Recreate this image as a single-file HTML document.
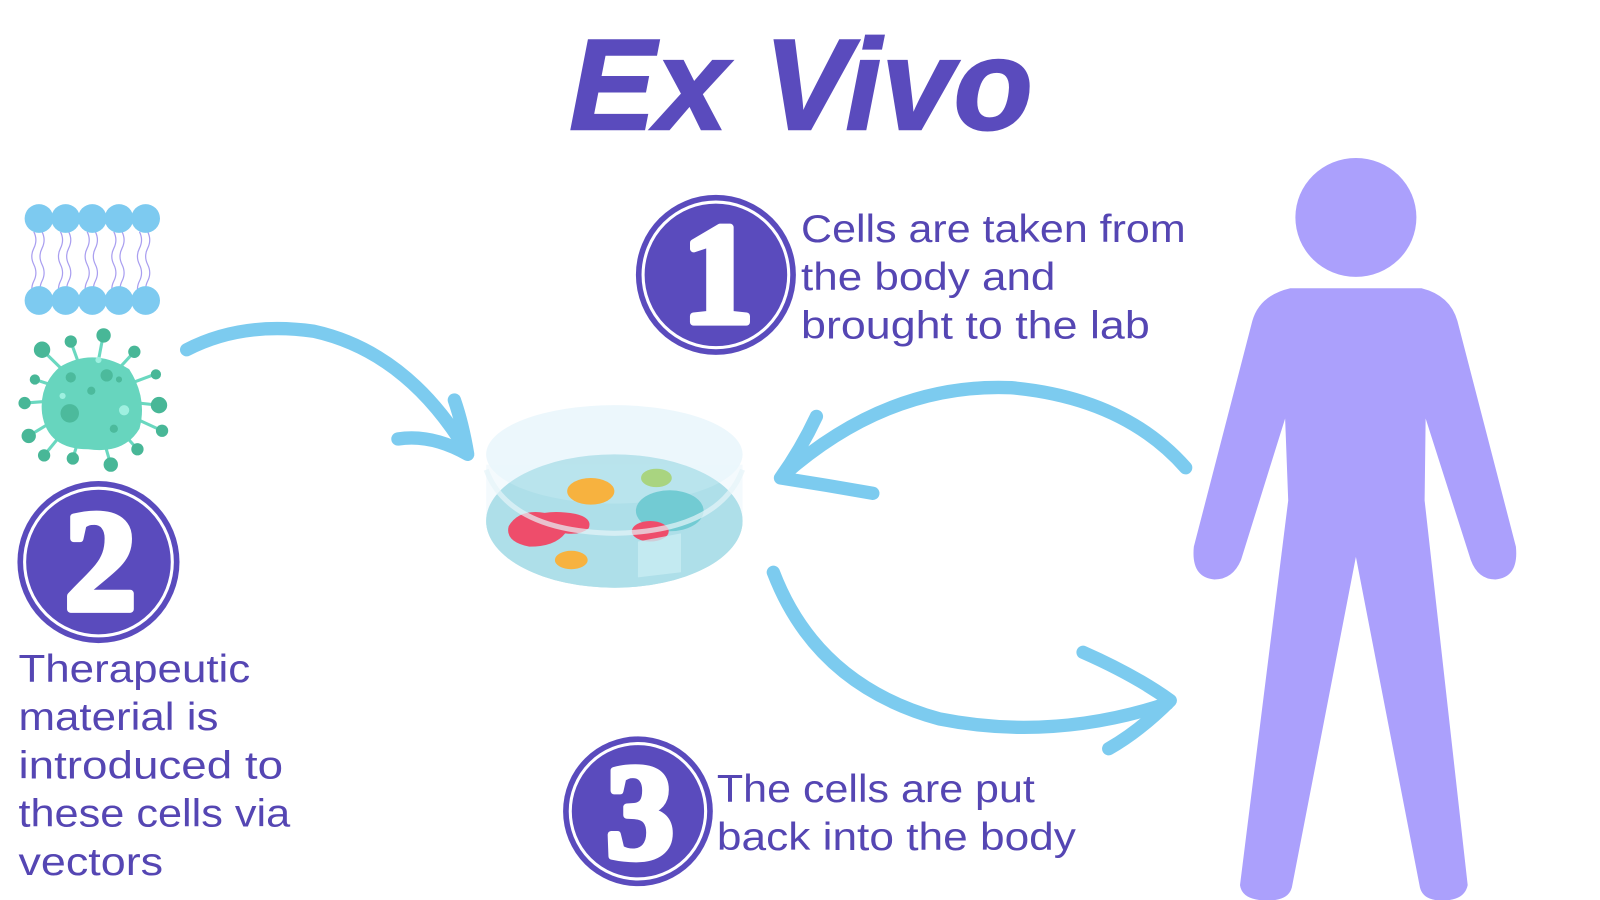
<!DOCTYPE html>
<html><head><meta charset="utf-8"><style>html,body{margin:0;padding:0;background:#fff;}svg{display:block}</style></head>
<body>
<svg width="1600" height="900" viewBox="0 0 1560 877.5" xmlns="http://www.w3.org/2000/svg">
<rect width="1560" height="877.5" fill="#fff"/>
<g transform="translate(-4,-2)">
<!-- title -->
<text x="785" y="128" text-anchor="middle" font-family="Liberation Sans, sans-serif" font-weight="bold" font-style="italic" font-size="126" fill="#5a4bbd" stroke="#5a4bbd" stroke-width="2" textLength="452" lengthAdjust="spacingAndGlyphs">Ex Vivo</text>

<!-- membrane -->
<g stroke="#a99ef0" stroke-width="1.2" fill="none">
<path d="M37 228 q4 8 0 16 q-4 8 0 16 q4 8 0 16 q-4 8 0 16"/><path d="M45 228 q4 8 0 16 q-4 8 0 16 q4 8 0 16 q-4 8 0 16"/>
<path d="M63 228 q4 8 0 16 q-4 8 0 16 q4 8 0 16 q-4 8 0 16"/><path d="M71 228 q4 8 0 16 q-4 8 0 16 q4 8 0 16 q-4 8 0 16"/>
<path d="M89 228 q4 8 0 16 q-4 8 0 16 q4 8 0 16 q-4 8 0 16"/><path d="M97 228 q4 8 0 16 q-4 8 0 16 q4 8 0 16 q-4 8 0 16"/>
<path d="M115 228 q4 8 0 16 q-4 8 0 16 q4 8 0 16 q-4 8 0 16"/><path d="M123 228 q4 8 0 16 q-4 8 0 16 q4 8 0 16 q-4 8 0 16"/>
<path d="M140 228 q4 8 0 16 q-4 8 0 16 q4 8 0 16 q-4 8 0 16"/><path d="M148 228 q4 8 0 16 q-4 8 0 16 q4 8 0 16 q-4 8 0 16"/>
</g>
<g fill="#7dcaf0">
<ellipse cx="42" cy="215" rx="14" ry="14"/><ellipse cx="68" cy="215" rx="14" ry="14"/><ellipse cx="94" cy="215" rx="14" ry="14"/><ellipse cx="120" cy="215" rx="14" ry="14"/><ellipse cx="146" cy="215" rx="14" ry="14"/>
<ellipse cx="42" cy="295" rx="14" ry="14"/><ellipse cx="68" cy="295" rx="14" ry="14"/><ellipse cx="94" cy="295" rx="14" ry="14"/><ellipse cx="120" cy="295" rx="14" ry="14"/><ellipse cx="146" cy="295" rx="14" ry="14"/>
</g>

<!-- virus -->
<g stroke="#6ad8c0" stroke-width="3">
<line x1="93" y1="390" x2="45" y2="343"/><line x1="93" y1="390" x2="73" y2="335"/><line x1="93" y1="390" x2="105" y2="327"/><line x1="93" y1="390" x2="135" y2="345"/>
<line x1="93" y1="390" x2="155" y2="367"/><line x1="93" y1="390" x2="158" y2="397"/><line x1="93" y1="390" x2="162" y2="422"/><line x1="93" y1="390" x2="138" y2="440"/>
<line x1="93" y1="390" x2="112" y2="455"/><line x1="93" y1="390" x2="75" y2="449"/><line x1="93" y1="390" x2="47" y2="446"/><line x1="93" y1="390" x2="32" y2="427"/><line x1="93" y1="390" x2="28" y2="395"/><line x1="93" y1="390" x2="38" y2="372"/>
</g>
<g fill="#48b797">
<circle cx="45" cy="343" r="8"/><circle cx="73" cy="335" r="6"/><circle cx="105" cy="329" r="7"/><circle cx="135" cy="345" r="6"/><circle cx="156" cy="367" r="5"/><circle cx="159" cy="397" r="8"/><circle cx="162" cy="422" r="6"/><circle cx="138" cy="440" r="6"/><circle cx="112" cy="455" r="7"/><circle cx="75" cy="449" r="6"/><circle cx="47" cy="446" r="6"/><circle cx="32" cy="427" r="7"/><circle cx="28" cy="395" r="6"/><circle cx="38" cy="372" r="5"/>
</g>
<path d="M62 360 Q95 340 130 362 Q148 390 140 420 Q125 445 90 440 Q50 440 45 405 Q42 378 62 360Z" fill="#67d5be"/>
<g fill="#4cba9c"><circle cx="72" cy="405" r="9"/><circle cx="108" cy="368" r="6"/><circle cx="73" cy="370" r="5"/><circle cx="93" cy="383" r="4"/><circle cx="115" cy="420" r="4"/><circle cx="120" cy="372" r="3"/></g>
<g fill="#9ef0e0"><circle cx="125" cy="402" r="5"/><circle cx="65" cy="388" r="3"/><circle cx="100" cy="353" r="3"/></g>

<!-- circles -->
<g font-family="Liberation Serif, serif" font-weight="bold" fill="#fff" stroke="#fff" stroke-width="7" stroke-linejoin="round" text-anchor="middle">
<circle cx="702" cy="270" r="78" fill="#5a4bbd" stroke="none"/><circle cx="702" cy="270" r="71" fill="none" stroke="#fff" stroke-width="3"/>
<text x="704" y="316" font-size="140">1</text>
<circle cx="100" cy="550" r="79" fill="#5a4bbd" stroke="none"/><circle cx="100" cy="550" r="72" fill="none" stroke="#fff" stroke-width="3"/>
<text x="102" y="596" font-size="140">2</text>
<circle cx="626" cy="793" r="73" fill="#5a4bbd" stroke="none"/><circle cx="626" cy="793" r="66" fill="none" stroke="#fff" stroke-width="3"/>
<text x="628" y="838" font-size="132">3</text>
</g>

<!-- texts -->
<g font-family="Liberation Sans, sans-serif" font-size="38" fill="#5546b3">
<text x="785" y="238" textLength="375" lengthAdjust="spacingAndGlyphs">Cells are taken from</text>
<text x="785" y="285" textLength="248" lengthAdjust="spacingAndGlyphs">the body and</text>
<text x="785" y="332" textLength="340" lengthAdjust="spacingAndGlyphs">brought to the lab</text>
<text x="22" y="667" textLength="226" lengthAdjust="spacingAndGlyphs">Therapeutic</text>
<text x="22" y="714" textLength="195" lengthAdjust="spacingAndGlyphs">material is</text>
<text x="22" y="761" textLength="258" lengthAdjust="spacingAndGlyphs">introduced to</text>
<text x="22" y="808" textLength="265" lengthAdjust="spacingAndGlyphs">these cells via</text>
<text x="22" y="855" textLength="141" lengthAdjust="spacingAndGlyphs">vectors</text>
<text x="703" y="784" textLength="310" lengthAdjust="spacingAndGlyphs">The cells are put</text>
<text x="703" y="831" textLength="350" lengthAdjust="spacingAndGlyphs">back into the body</text>
</g>

<!-- petri dish -->
<ellipse cx="603" cy="510" rx="125" ry="65" fill="#a8dde7"/>
<path d="M478 455 L478 510 A125 65 0 0 0 728 510 L728 455" fill="#dff2f8" opacity="0.35"/>
<ellipse cx="603" cy="445" rx="125" ry="48" fill="#e9f6fb" opacity="0.85"/>
<ellipse cx="603" cy="510" rx="125" ry="65" fill="#a8dde7" opacity="0.7"/>
<ellipse cx="580" cy="481" rx="23" ry="13" fill="#f7b23f"/>
<ellipse cx="644" cy="468" rx="15" ry="9" fill="#a9d480"/>
<ellipse cx="657" cy="500" rx="33" ry="20" fill="#72cbd3"/>
<path d="M500 515 Q510 498 535 502 Q548 500 565 503 Q582 507 578 517 Q570 524 555 522 Q545 535 520 535 Q496 530 500 515Z" fill="#ee4d6b"/>
<ellipse cx="638" cy="520" rx="18" ry="10" fill="#ee4d6b"/>
<ellipse cx="561" cy="548" rx="16" ry="9" fill="#f7b23f"/>
<path d="M478 460 Q500 520 603 522 Q705 520 728 460" fill="none" stroke="#e6f4f8" stroke-width="5" opacity="0.7"/>
<path d="M626 530 L668 522 L668 560 L626 565Z" fill="#c8ecf2" opacity="0.8"/>

<!-- arrows -->
<g fill="none" stroke="#7ccbef" stroke-width="13" stroke-linecap="round" stroke-linejoin="round">
<path d="M186 343 Q240 315 310 325 Q400 345 458 440"/>
<path d="M392 430 Q425 425 460 445 Q455 415 447 392"/>
<path d="M1160 458 Q1100 390 990 380 Q870 375 768 465"/>
<path d="M800 408 Q785 440 765 468 Q810 475 855 483"/>
<path d="M758 560 Q800 670 920 703 Q1030 725 1142 688"/>
<path d="M1060 638 Q1110 660 1145 685 Q1115 715 1085 732"/>
</g>

<!-- person -->
<g fill="#aba0fc">
<ellipse cx="1326" cy="214" rx="59" ry="58"/>
<path d="M1262 283 L1390 283 Q1418 290 1425 315 L1482 535 Q1485 565 1462 567 Q1445 567 1438 548 L1394 410 L1393 490 L1435 865 Q1432 880 1410 880 Q1390 880 1388 865 L1326 545 L1264 865 Q1262 880 1240 880 Q1215 880 1213 865 L1260 490 L1257 410 L1214 548 Q1206 567 1188 567 Q1165 565 1168 535 L1225 315 Q1232 290 1262 283Z"/>
</g>
</g>
</svg>
</body></html>
